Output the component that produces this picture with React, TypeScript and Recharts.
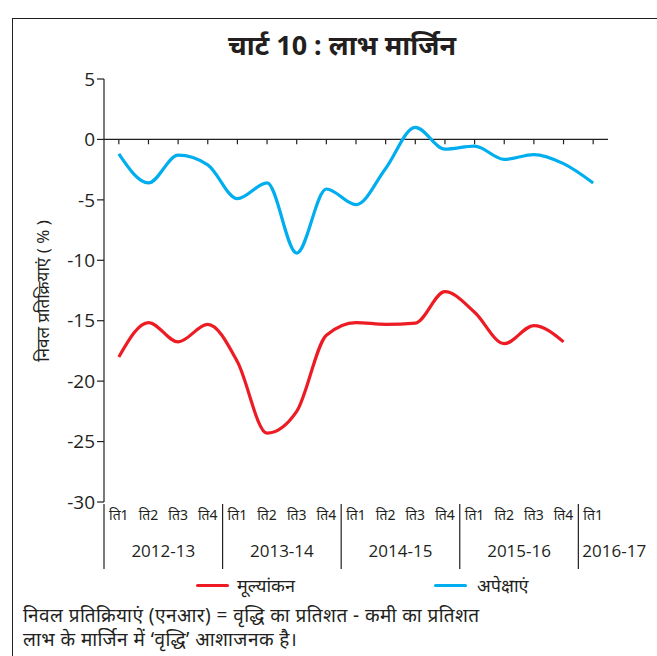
import { LineChart, Line, XAxis, YAxis, ReferenceLine, Legend } from 'recharts';

const periods = ['2012-13', '2013-14', '2014-15', '2015-16', '2016-17'];
const quartersPerPeriod = [4, 4, 4, 4, 1];
const quarterLabels = ['ति1', 'ति2', 'ति3', 'ति4'];
const yTicks = [5, 0, -5, -10, -15, -20, -25, -30];

// मूल्यांकन (valuation) and अपेक्षाएं (expectations), net responses in %
const valuation = [-18.0, -15.15, -16.75, -15.3, -18.4, -24.3, -22.5, -16.2, -15.15, -15.3, -15.2, -12.6, -14.3, -16.9, -15.4, -16.75, null];
const expectations = [-1.2, -3.6, -1.3, -2.1, -4.9, -3.6, -9.4, -4.1, -5.4, -2.4, 1.0, -0.8, -0.55, -1.65, -1.25, -2.0, -3.6];

const seriesOrder = ['valuation', 'expectations'];

const RED = '#ed1c24';
const BLUE = '#00aeef';
const INK = '#231f20';

const data: any[] = [];
periods.forEach((p, pi) => {
  for (let q = 0; q < quartersPerPeriod[pi]; q++) {
    const i = data.length;
    data.push({
      key: `${p}-${q}`,
      quarter: quarterLabels[q],
      period: p,
      first: q === 0,
      count: quartersPerPeriod[pi],
      valuation: valuation[i],
      expectations: expectations[i],
    });
  }
});

const W = 657;
const H = 656;
const PLOT_TOP = 79;
const PLOT_BOTTOM = 502;
const PLOT_LEFT = 104;
const PLOT_RIGHT = 608;
const STEP = (PLOT_RIGHT - PLOT_LEFT) / data.length;
const HALF = STEP / 2;

function QuarterTick(props: any) {
  const { x, y, payload } = props;
  const d = data[payload.index];
  if (!d) return null;
  const sepX = x - HALF;
  return (
    <g>
      <text x={x} y={y + 16} textAnchor="middle" fontSize={14} fill={INK}>
        {d.quarter}
      </text>
      {d.first && <line x1={sepX} x2={sepX} y1={y} y2={y + 65} stroke={INK} strokeWidth={1.2} />}
      {d.first &&
        (d.count === 4 ? (
          <text x={sepX + 2 * STEP} y={y + 53} textAnchor="middle" fontSize={17} fill={INK} fontFamily="'Open Sans', sans-serif">
            {d.period}
          </text>
        ) : (
          <text x={sepX + 4} y={y + 53} textAnchor="start" fontSize={17} fill={INK} fontFamily="'Open Sans', sans-serif">
            {d.period}
          </text>
        ))}
    </g>
  );
}

function LegendContent(props: any) {
  const payload = [...(props.payload || [])].sort(
    (a: any, b: any) => seriesOrder.indexOf(a.dataKey) - seriesOrder.indexOf(b.dataKey)
  );
  const lefts = [196, 434];
  return (
    <div style={{ position: 'relative', width: W, height: 24 }}>
      {payload.map((e: any, i: number) => (
        <div key={e.value} style={{ position: 'absolute', left: lefts[i], top: 0, display: 'flex', alignItems: 'center', height: 24 }}>
          <div style={{ width: 33, height: 3, background: e.color, borderRadius: 2 }} />
          <span style={{ marginLeft: i === 0 ? 8 : 10, fontSize: 18, color: INK }}>{e.value}</span>
        </div>
      ))}
    </div>
  );
}

export default function App() {
  return (
    <div style={{ position: 'absolute', left: 0, top: 0, width: W, height: H, overflow: 'hidden', background: '#fff', fontFamily: "'Noto Sans', sans-serif" }}>
      <div style={{ position: 'absolute', left: 12, top: 18, width: W, height: H, borderLeft: `1.5px solid ${INK}`, borderTop: `1.5px solid ${INK}` }} />
      <div style={{ position: 'absolute', left: 0, top: 26, width: 684, textAlign: 'center', fontSize: 27, fontWeight: 'bold', color: INK }}>
        चार्ट 10 : लाभ मार्जिन
      </div>
      <div style={{ position: 'absolute', left: 0, top: 0 }}>
        <LineChart width={W} height={H} data={data} margin={{ top: PLOT_TOP, right: W - PLOT_RIGHT, bottom: 60, left: 44 }}>
          <XAxis
            dataKey="key"
            scale="point"
            padding={{ left: HALF, right: HALF }}
            interval={0}
            axisLine={false}
            tickLine={false}
            tickSize={0}
            height={70}
            tick={<QuarterTick />}
          />
          <YAxis
            domain={[-30, 5]}
            ticks={yTicks}
            interval={0}
            width={60}
            axisLine={{ stroke: INK, strokeWidth: 1.2 }}
            tickLine={{ stroke: INK, strokeWidth: 1.2 }}
            tickSize={7}
            tick={{ fill: INK, fontSize: 19, fontFamily: "'Open Sans', sans-serif" }}
          />
          <ReferenceLine y={0} stroke={INK} strokeWidth={1.2} ifOverflow="extendDomain" />
          {data.map((d) => (
            <ReferenceLine key={d.key} segment={[{ x: d.key, y: 0 }, { x: d.key, y: -0.4 }]} stroke={INK} strokeWidth={1.2} />
          ))}
          <Line type="monotone" dataKey="valuation" name="मूल्यांकन" stroke={RED} strokeWidth={3.2} dot={false} isAnimationActive={false} connectNulls={false} />
          <Line type="monotone" dataKey="expectations" name="अपेक्षाएं" stroke={BLUE} strokeWidth={3.2} dot={false} isAnimationActive={false} />
          <Legend content={<LegendContent />} wrapperStyle={{ position: 'absolute', left: 0, top: 573, width: W }} />
        </LineChart>
      </div>
      <div
        style={{
          position: 'absolute',
          left: 43,
          top: (PLOT_TOP + PLOT_BOTTOM) / 2,
          transform: 'translate(-50%, -50%) rotate(-90deg)',
          whiteSpace: 'nowrap',
          fontSize: 17,
          lineHeight: '20px',
          color: INK,
        }}
      >
        निवल प्रतिक्रियाएं ( % )
      </div>
      <div style={{ position: 'absolute', left: 23, top: 603, fontSize: 19, lineHeight: '24px', letterSpacing: '0.45px', color: INK }}>
        <div>निवल प्रतिक्रियाएं (एनआर) = वृद्धि का प्रतिशत - कमी का प्रतिशत</div>
        <div>लाभ के मार्जिन में ‘वृद्धि’ आशाजनक है।</div>
      </div>
    </div>
  );
}
